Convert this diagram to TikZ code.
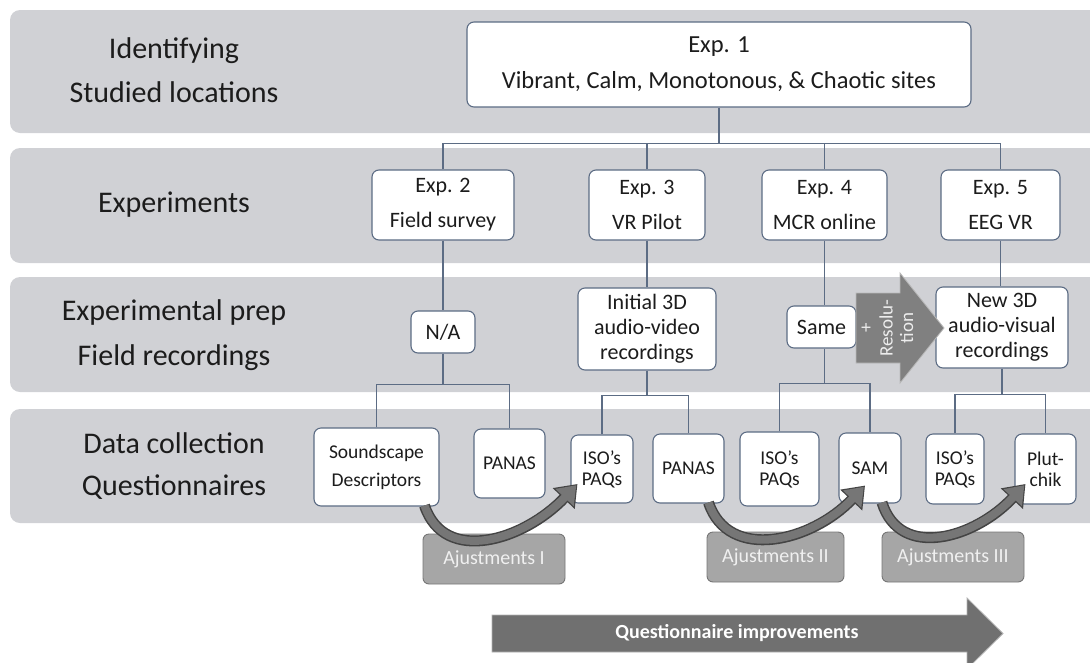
\documentclass[tikz,border=0pt]{standalone}
\usepackage{fontspec}
\setmainfont{Carlito}
\usetikzlibrary{arrows.meta,calc}
\definecolor{bandgray}{RGB}{208,209,213}
\definecolor{boxline}{RGB}{92,108,132}
\definecolor{txt}{RGB}{28,28,28}
\definecolor{ajfill}{RGB}{166,166,166}
\definecolor{ajline}{RGB}{118,118,118}
\definecolor{arrfill}{RGB}{118,118,118}
\definecolor{arrline}{RGB}{68,68,68}
\definecolor{bigarr}{RGB}{112,112,112}
\definecolor{resarr}{RGB}{128,128,128}
\begin{document}
\begin{tikzpicture}[x=1pt,y=-1pt,
  band/.style={fill=bandgray, rounded corners=10pt},
  lab/.style={anchor=base, text=txt, font=\fontsize{30}{36}\selectfont, inner sep=0pt},
  box/.style={draw=boxline, line width=1.1pt, fill=white, rounded corners=7pt, text=txt,
    align=center, inner sep=0pt, font=\fontsize{22}{25}\selectfont},
  expbox/.style={box, minimum height=70pt, font=\fontsize{22}{35}\selectfont},
  qbox/.style={box, font=\fontsize{19.5}{21}\selectfont},
  conn/.style={draw=boxline, line width=1.1pt},
  adj/.style={fill=ajfill, draw=ajline, line width=0.9pt, rounded corners=6pt,
    text=white!94!black, inner sep=0pt, minimum height=50pt, font=\fontsize{20}{24}\selectfont},
  carrowout/.style={line width=11pt, draw=arrline, -{Triangle[length=20pt,width=29pt]}},
  carrowin/.style={line width=8pt, draw=arrfill, shorten >=1.7pt, -{Triangle[length=17pt,width=24pt]}}
]
\useasboundingbox (0,0) rectangle (1090,662);
\clip (0,0) rectangle (1090,662);

% bands
\fill[band] (10,10) rectangle (1115,133);
\fill[band] (10,148) rectangle (1115,263);
\fill[band] (10,277) rectangle (1115,392);
\fill[band] (10,409) rectangle (1115,523);

% left labels
\node[lab] (l1a) at (174,58) {Identifying};
\node[lab] (l1b) at (174,102) {Studied locations};
\node[lab] (l2) at (174,212) {Experiments};
\node[lab] (l3a) at (174,320) {Experimental prep};
\node[lab] (l3b) at (174,365) {Field recordings};
\node[lab] (l4a) at (174,453) {Data collection};
\node[lab] (l4b) at (174,495) {Questionnaires};

% top box
\node[box, minimum width=504pt, minimum height=85pt, font=\fontsize{24.5}{36}\selectfont] (e1) at (719,64.5)
  {Exp. 1\\Vibrant, Calm, Monotonous, \& Chaotic sites};

% experiments
\node[expbox, minimum width=142pt] (e2) at (443,205) {Exp. 2\\Field survey};
\node[expbox, minimum width=116pt] (e3) at (647,205) {Exp. 3\\VR Pilot};
\node[expbox, minimum width=125pt] (e4) at (824.5,205) {Exp. 4\\MCR online};
\node[expbox, minimum width=119pt] (e5) at (1000.5,205) {Exp. 5\\EEG VR};

% prep
\node[box, minimum width=64pt, minimum height=42pt] (na) at (443,332) {N/A};
\node[box, minimum width=138pt, minimum height=82pt] (init) at (647,329) {Initial 3D\\audio-video\\recordings};
\node[box, minimum width=69pt, minimum height=42pt] (same) at (821.5,327) {Same};
\node[box, minimum width=132pt, minimum height=81pt] (new) at (1002,327.5) {New 3D\\audio-visual\\recordings};

% questionnaires
\node[qbox, minimum width=125pt, minimum height=78pt, font=\fontsize{19.5}{28}\selectfont] (q1) at (376.5,467) {Soundscape\\Descriptors};
\node[qbox, minimum width=71pt, minimum height=69pt] (q2) at (509.5,463.5) {PANAS};
\node[qbox, minimum width=62pt, minimum height=68pt] (q3) at (602,469) {ISO's\\PAQs};
\node[qbox, minimum width=71pt, minimum height=69pt] (q4) at (688.5,468.5) {PANAS};
\node[qbox, minimum width=79pt, minimum height=74pt] (q5) at (779.5,469) {ISO's\\PAQs};
\node[qbox, minimum width=62pt, minimum height=70pt] (q6) at (870,468) {SAM};
\node[qbox, minimum width=58pt, minimum height=70pt] (q7) at (955,469) {ISO's\\PAQs};
\node[qbox, minimum width=61pt, minimum height=70pt] (q8) at (1045.5,469) {Plut-\\chik};

% connectors
\draw[conn] (e1.south) -- ++(0,36) coordinate (b1);
\draw[conn] (e2.north) |- (b1) -| (e5.north);
\draw[conn] (e3.north) -- (e3.north |- b1);
\draw[conn] (e4.north) -- (e4.north |- b1);

\draw[conn] (e2.south) -- (na.north);
\draw[conn] (na.south) -- ++(0,31) coordinate (b2);
\draw[conn] (q1.north) |- (b2) -| (q2.north);

\draw[conn] (e3.south) -- (init.north);
\draw[conn] (init.south) -- ++(0,25) coordinate (b3);
\draw[conn] (q3.north) |- (b3) -| (q4.north);

\draw[conn] (e4.south) -- (e4.south |- same.north);
\draw[conn] (e4.south |- same.south) -- ++(0,35) coordinate (b4);
\draw[conn] (q5.north) |- (b4) -| (q6.north);

\draw[conn] (e5.south) -- (e5.south |- new.north);
\draw[conn] (new.south) -- ++(0,26) coordinate (b5);
\draw[conn] (q7.north) |- (b5) -| (q8.north);

% resolution arrow
\filldraw[fill=resarr, draw=gray!55, line width=0.8pt]
  (856,293) -- (900,293) -- (900,273) -- (944,328) -- (900,383) -- (900,363) -- (856,363) -- cycle;
\node[rotate=90, align=center, text=white!93!black, inner sep=0pt, font=\fontsize{19}{20.5}\selectfont] (res) at (887.5,328) {+\\Resolu-\\tion};

% adjustment boxes
\node[adj, minimum width=142pt] (aj1) at (494,559) {Ajustments I};
\node[adj, minimum width=137pt] (aj2) at (775.5,557) {Ajustments II};
\node[adj, minimum width=142pt] (aj3) at (953,557) {Ajustments III};

% curved arrows
\coordinate (s1) at ($(q1.south)+(48,-1)$);
\coordinate (t1) at ($(q3.west)+(7,15)$);
\coordinate (s2) at ($(q4.south)+(20,-1)$);
\coordinate (t2) at ($(q6.south)+(-5,-18)$);
\coordinate (s3) at ($(q6.south)+(12,-1)$);
\coordinate (t3) at ($(q8.west)+(11,15)$);
\draw[carrowout] (s1) .. controls +(20,60) and +(-53,56) .. (t1);
\draw[carrowin]  (s1) .. controls +(20,60) and +(-53,56) .. (t1);
\draw[carrowout] (s2) .. controls +(20,60) and +(-53,56) .. (t2);
\draw[carrowin]  (s2) .. controls +(20,60) and +(-53,56) .. (t2);
\draw[carrowout] (s3) .. controls +(18,58) and +(-50,54) .. (t3);
\draw[carrowin]  (s3) .. controls +(18,58) and +(-50,54) .. (t3);

% questionnaire improvements arrow
\filldraw[fill=bigarr, draw=gray!60, line width=0.8pt]
  (492,615) -- (967,615) -- (967,598) -- (1003,633.5) -- (967,669) -- (967,652) -- (492,652) -- cycle;
\node[text=white, inner sep=0pt, font=\bfseries\fontsize{20}{24}\selectfont] (qi) at (737,633) {Questionnaire improvements};
\end{tikzpicture}
\end{document}
